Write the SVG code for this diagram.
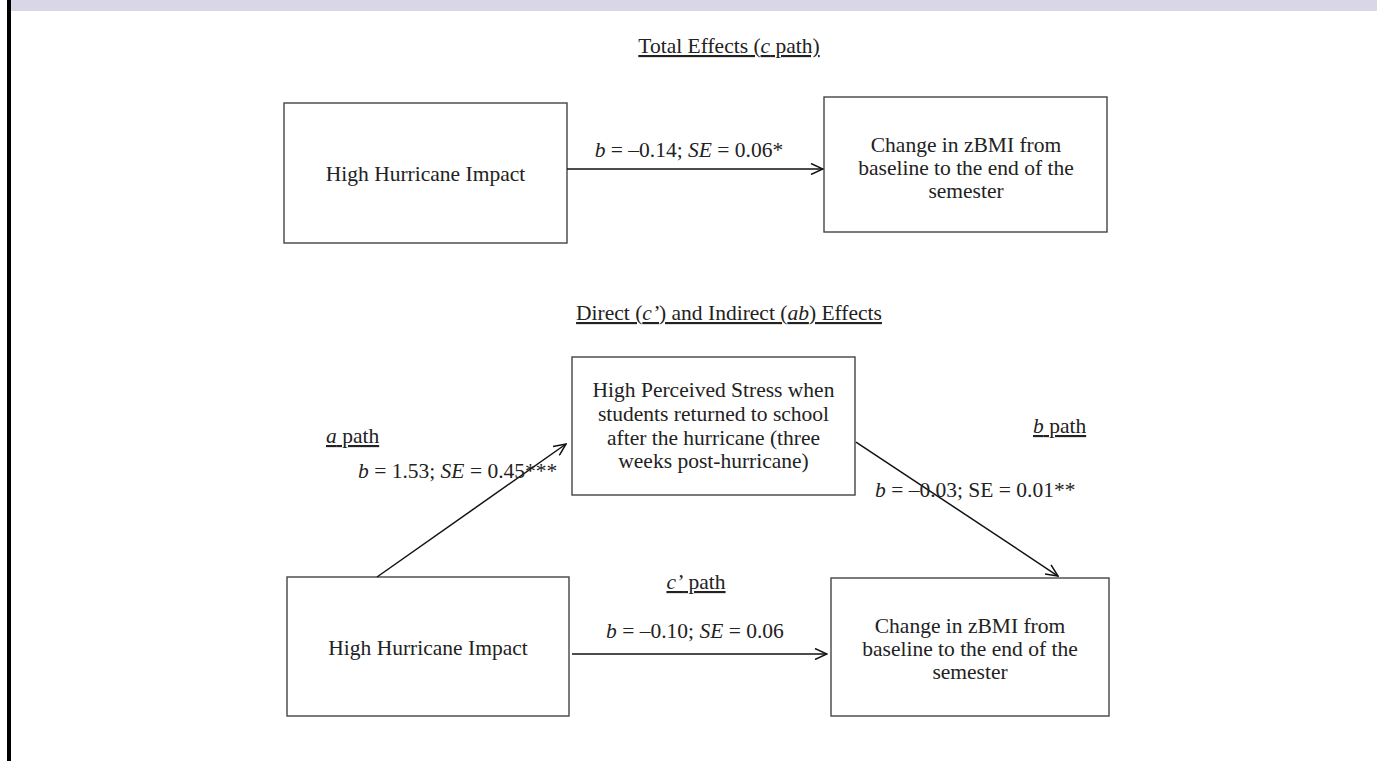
<svg xmlns="http://www.w3.org/2000/svg" width="1377" height="761" viewBox="0 0 1377 761">
<style>
text{font-family:"Liberation Serif","Times New Roman",serif;font-size:21.5px;fill:#222}
.box{fill:#fff;stroke:#444;stroke-width:1.4}
.conn{stroke:#111;stroke-width:1.5;fill:none}
.u{text-decoration:underline}
.i{font-style:italic}
</style>
<defs>
<marker id="arr" viewBox="0 0 14 12" refX="13" refY="6" markerWidth="14" markerHeight="12" markerUnits="userSpaceOnUse" orient="auto">
<path d="M1,0.5 L13,6 L1,11.5" fill="none" stroke="#111" stroke-width="1.5"/>
</marker>
</defs>
<rect x="0" y="0" width="1377" height="761" fill="#fff"/>
<rect x="10" y="0" width="1367" height="11" fill="#d9d6e6"/>
<rect x="7" y="0" width="4" height="761" fill="#000"/>

<text x="729" y="53" text-anchor="middle" class="u">Total Effects (<tspan class="i">c</tspan> path)</text>
<text x="729" y="320" text-anchor="middle" class="u">Direct (<tspan class="i">c’</tspan>) and Indirect (<tspan class="i">ab</tspan>) Effects</text>

<g id="total-impact">
<rect class="box" x="284" y="103" width="283" height="140"/>
<text x="425.5" y="181" text-anchor="middle">High Hurricane Impact</text>
</g>
<g id="total-zbmi">
<rect class="box" x="824" y="97" width="283" height="135"/>
<text x="966" y="152" text-anchor="middle">Change in zBMI from</text>
<text x="966" y="175" text-anchor="middle">baseline to the end of the</text>
<text x="966" y="198" text-anchor="middle">semester</text>
</g>
<g id="stress">
<rect class="box" x="572" y="357" width="283" height="138"/>
<text x="713.5" y="397" text-anchor="middle">High Perceived Stress when</text>
<text x="713.5" y="421" text-anchor="middle">students returned to school</text>
<text x="713.5" y="445" text-anchor="middle">after the hurricane (three</text>
<text x="713.5" y="468" text-anchor="middle">weeks post-hurricane)</text>
</g>
<g id="impact">
<rect class="box" x="287" y="577" width="282" height="139"/>
<text x="428" y="655" text-anchor="middle">High Hurricane Impact</text>
</g>
<g id="zbmi">
<rect class="box" x="831" y="578" width="278" height="138"/>
<text x="970" y="633" text-anchor="middle">Change in zBMI from</text>
<text x="970" y="656" text-anchor="middle">baseline to the end of the</text>
<text x="970" y="679" text-anchor="middle">semester</text>
</g>

<g id="connectors">
<line class="conn" x1="567" y1="169" x2="823" y2="169" marker-end="url(#arr)"/>
<line class="conn" x1="377" y1="577" x2="566" y2="444" marker-end="url(#arr)"/>
<line class="conn" x1="856" y1="442" x2="1058" y2="576" marker-end="url(#arr)"/>
<line class="conn" x1="572" y1="654" x2="827" y2="654" marker-end="url(#arr)"/>
</g>

<g id="labels">
<text x="689" y="157" text-anchor="middle"><tspan class="i">b</tspan> = –0.14; <tspan class="i">SE</tspan> = 0.06*</text>
<text x="326" y="443" class="u"><tspan class="i">a</tspan> path</text>
<text x="358" y="478"><tspan class="i">b</tspan> = 1.53; <tspan class="i">SE</tspan> = 0.45***</text>
<text x="1033" y="433" class="u"><tspan class="i">b</tspan> path</text>
<text x="875" y="497"><tspan class="i">b</tspan> = –0.03; SE = 0.01**</text>
<text x="696" y="589" text-anchor="middle" class="u"><tspan class="i">c’</tspan> path</text>
<text x="695" y="638" text-anchor="middle"><tspan class="i">b</tspan> = –0.10; <tspan class="i">SE</tspan> = 0.06</text>
</g>
</svg>
